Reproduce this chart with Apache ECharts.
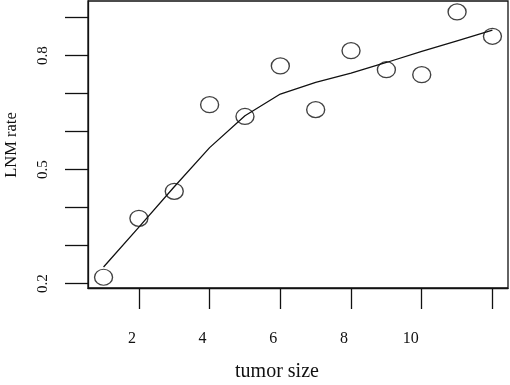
<!DOCTYPE html>
<html>
<head>
<meta charset="utf-8">
<script src="https://cdn.jsdelivr.net/npm/echarts@6/dist/echarts.min.js"></script>
<style>
    html, body { margin: 0; padding: 0; background: #fff; }
    #scatter { width: 510px; height: 385px; }
</style>
</head>
<body>
<div id="scatter"></div>
<script>
// tumor size vs LNM rate, points + smoothed fit
const tumorSize = [1, 2, 3, 4, 5, 6, 7, 8, 9, 10, 11, 12];
const lnmRate = [0.217, 0.372, 0.443, 0.671, 0.640, 0.773, 0.658, 0.813, 0.763, 0.750, 0.915, 0.851];
const fittedRate = [0.244, 0.349, 0.455, 0.558, 0.642, 0.699, 0.730, 0.754, 0.782, 0.811, 0.839, 0.867];

const xTicks = [2, 4, 6, 8, 10, 12];
const xLabels = [2, 4, 6, 8, 10];
const yTicks = [0.2, 0.3, 0.4, 0.5, 0.6, 0.7, 0.8, 0.9];
const yLabels = [0.2, 0.5, 0.8];

function scatter() {
    let chart = echarts.init(document.getElementById('scatter'));
    const font = 'Liberation Serif';

    let option = {
        animation: false,
        grid: {
            left: 88,
            right: 2,
            top: 1,
            bottom: 97,
            show: true,
            borderColor: '#111',
            borderWidth: 1.3
        },
        xAxis: {
            type: 'value',
            min: 0.56,
            max: 12.44,
            splitLine: {show: false},
            axisLine: {show: true, lineStyle: {color: '#111', width: 1.3}},
            axisTick: {
                show: true,
                length: 21,
                customValues: xTicks,
                lineStyle: {color: '#111', width: 1.3}
            },
            axisLabel: {
                customValues: xLabels,
                margin: 43,
                align: 'right',
                padding: [0, 3, 0, 0],
                color: '#111',
                fontFamily: font,
                fontSize: 16
            }
        },
        yAxis: {
            type: 'value',
            min: 0.1887,
            max: 0.9438,
            splitLine: {show: false},
            axisLine: {show: true, lineStyle: {color: '#111', width: 1.3}},
            axisTick: {
                show: true,
                length: 23,
                customValues: yTicks,
                lineStyle: {color: '#111', width: 1.3}
            },
            axisLabel: {
                customValues: yLabels,
                rotate: 90,
                margin: 37,
                color: '#111',
                fontFamily: font,
                fontSize: 15,
                formatter: function (v) {
                    return v.toFixed(1);
                }
            }
        },
        graphic: [
            {
                type: 'text',
                x: 277,
                y: 372,
                style: {
                    text: 'tumor size',
                    font: '20px "Liberation Serif"',
                    fill: '#111',
                    align: 'center',
                    verticalAlign: 'middle'
                }
            },
            {
                type: 'text',
                x: 12,
                y: 145,
                rotation: Math.PI / 2,
                style: {
                    text: 'LNM rate',
                    font: '16.5px "Liberation Serif"',
                    fill: '#111',
                    align: 'center',
                    verticalAlign: 'middle'
                }
            }
        ],
        series: [
            {
                name: 'fit',
                type: 'line',
                data: tumorSize.map((x, i) => [x, fittedRate[i]]),
                showSymbol: false,
                lineStyle: {color: '#111', width: 1.3}
            },
            {
                name: 'LNM rate',
                type: 'scatter',
                data: tumorSize.map((x, i) => [x, lnmRate[i]]),
                symbol: 'circle',
                symbolSize: [18, 16],
                itemStyle: {
                    color: 'rgba(0,0,0,0)',
                    borderColor: '#111',
                    borderWidth: 1.3
                }
            }
        ]
    };

    chart.setOption(option);
}

scatter();
</script>
</body>
</html>
